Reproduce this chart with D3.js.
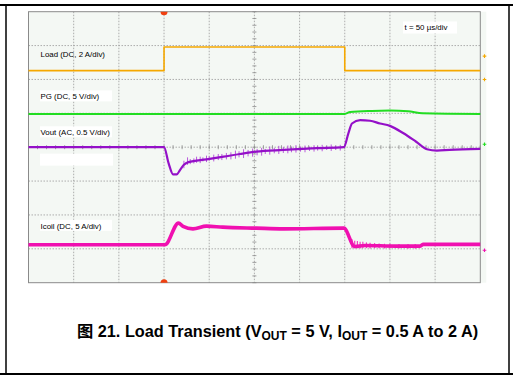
<!DOCTYPE html>
<html><head><meta charset="utf-8">
<script src="https://cdn.jsdelivr.net/npm/d3@7"></script>
<style>
html,body{margin:0;padding:0;background:#fff;}
svg{display:block;}
text{font-family:"Liberation Sans",Arial,sans-serif;}
</style></head>
<body>
<script>
// ---- data (time in µs, amplitude in scope divisions) ----
const xGrid = [0,50,100,150,200,250,300,350,400,450,500];
const yGrid = [-4,-3,-2,-1,0,1,2,3,4];
const loadTrace = [[0,2.26],[150,2.26],[150,2.96],[350,2.96],[350,2.26],[500,2.26]];
const pgTrace = [[0,0.98],[350,0.98],[356,1.04],[380,1.07],[400,1.08],[420,1.06],[436,1.0],[500,0.98]];
const voutTrace = [[0,0],[150,0],[155,-0.47],[160,-0.80],[164,-0.80],[168,-0.66],[172,-0.52],[177,-0.44],[197,-0.36],[216,-0.28],[234,-0.20],[252,-0.13],[282,-0.08],[319,-0.03],[349,0.0],[354,0.41],[358,0.70],[367,0.80],[378,0.78],[389,0.70],[400,0.63],[415,0.41],[429,0.16],[441,-0.06],[452,-0.10],[466,-0.08],[500,-0.05]];
const voutSpikes = [[172,-0.62,-0.40],[176,-0.52,-0.30],[179,-0.50,-0.35],[183,-0.48,-0.33],[186,-0.46,-0.28],[190,-0.47,-0.28],[193,-0.42,-0.30],[197,-0.44,-0.25],[200,-0.40,-0.27],[205,-0.42,-0.22],[210,-0.38,-0.20],[214,-0.38,-0.20],[219,-0.36,-0.17],[224,-0.36,-0.15],[229,-0.34,-0.10],[233,-0.30,-0.12],[238,-0.32,-0.06],[243,-0.27,-0.08],[248,-0.28,-0.04],[253,-0.24,-0.05],[258,-0.25,-0.02],[262,-0.20,-0.05],[267,-0.22,0.02],[272,-0.18,-0.02],[277,-0.20,0.04],[282,-0.17,0.01],[287,-0.18,0.05],[291,-0.15,0.02],[296,-0.16,0.06],[301,-0.13,0.02],[306,-0.15,0.05],[311,-0.11,0.02],[316,-0.13,0.06],[320,-0.10,0.03],[325,-0.12,0.07],[330,-0.08,0.03],[335,-0.11,0.08],[340,-0.08,0.04],[345,-0.10,0.07]];
const icoilTrace = [[0,-2.88],[151,-2.88],[166,-2.24],[171,-2.34],[182,-2.41],[197,-2.33],[215,-2.36],[252,-2.39],[282,-2.41],[349,-2.39],[361,-2.93],[372,-2.90],[407,-2.92],[433,-2.92],[437,-2.87],[500,-2.87]];
const icoilSpikes = [[358,-2.98,-2.72],[361,-2.98,-2.76],[364,-2.98,-2.77],[367,-2.99,-2.79],[370,-2.98,-2.79],[374,-2.98,-2.81],[378,-2.99,-2.82],[383,-2.98,-2.83],[388,-2.98,-2.84],[394,-2.99,-2.85],[400,-2.99,-2.85],[410,-2.99,-2.86],[420,-3.0,-2.86],[428,-3.0,-2.86]];
const chMarkers = [[2.69,"#f5a800"],[2.0,"#f5a800"],[0.085,"#22dd22"],[-3.04,"#f010b0"]];
const labels = [["Load (DC, 2 A/div)",2.75,false],["PG (DC, 5 V/div)",1.5,true],["Vout (AC, 0.5 V/div)",0.44,true],["Icoil (DC, 5 A/div)",-2.32,true]];
const timeLabel = "t = 50 µs/div";
const triggerT = 150;

const W = 513, H = 377;
const svg = d3.select("body").append("svg").attr("width",W).attr("height",H);
svg.append("rect").attr("width",W).attr("height",H).attr("fill","#fff");

const x = d3.scaleLinear().domain([0,500]).range([28.5,480.3]);
const y = d3.scaleLinear().domain([-4,4]).range([282.7,11.7]);

// page frame
svg.append("line").attr("x1",0).attr("x2",W).attr("y1",5).attr("y2",5).attr("stroke","#000").attr("stroke-width",2);
svg.append("line").attr("x1",0).attr("x2",W).attr("y1",374).attr("y2",374).attr("stroke","#000").attr("stroke-width",2);
svg.append("line").attr("x1",6).attr("x2",6).attr("y1",5).attr("y2",374).attr("stroke","#000").attr("stroke-width",1.5);
svg.append("line").attr("x1",509).attr("x2",509).attr("y1",5).attr("y2",374).attr("stroke","#000").attr("stroke-width",1.5);

// scope background
svg.append("rect").attr("x",x(0)).attr("y",y(4)).attr("width",x(500)-x(0)+6).attr("height",y(-4)-y(4)).attr("fill","#f4f8f4");

const g = svg.append("g");
// grid
g.selectAll(".vg").data(xGrid.slice(1,-1)).join("line")
  .attr("x1",d=>x(d)).attr("x2",d=>x(d)).attr("y1",y(4)).attr("y2",y(-4))
  .attr("stroke","#9a9a9a").attr("stroke-width",0.8).attr("stroke-dasharray","1.5,1.5");
g.selectAll(".hg").data(yGrid.slice(1,-1)).join("line")
  .attr("x1",x(0)).attr("x2",x(500)).attr("y1",d=>y(d)).attr("y2",d=>y(d))
  .attr("stroke","#9a9a9a").attr("stroke-width",0.8).attr("stroke-dasharray","1.5,1.5");
// minor ticks on center axes
const minorY = d3.range(-4,4.001,0.2);
g.selectAll(".my").data(minorY).join("line")
  .attr("x1",x(250)-2).attr("x2",x(250)+2).attr("y1",d=>y(d)).attr("y2",d=>y(d))
  .attr("stroke","#8a8a8a").attr("stroke-width",0.8);
const minorX = d3.range(0,500.01,10);
g.selectAll(".mx").data(minorX).join("line")
  .attr("x1",d=>x(d)).attr("x2",d=>x(d)).attr("y1",y(0)-2).attr("y2",y(0)+2)
  .attr("stroke","#8a8a8a").attr("stroke-width",0.8);
// border
g.append("rect").attr("x",x(0)).attr("y",y(4)).attr("width",x(500)-x(0)).attr("height",y(-4)-y(4))
  .attr("fill","none").attr("stroke","#8a8a8a").attr("stroke-width",1);

// labels with white boxes
labels.forEach(([t,v,box])=>{
  const ty = y(v);
  if(box) g.append("rect").attr("x",40).attr("y",ty-6).attr("width",72).attr("height",11).attr("fill","#fff");
  g.append("text").attr("x",40.5).attr("y",ty+2.8).attr("font-size",7.9).attr("fill","#000").text(t);
});
g.append("rect").attr("x",40).attr("y",y(-0.19)).attr("width",73).attr("height",12).attr("fill","#fff");
g.append("rect").attr("x",403).attr("y",21.5).attr("width",54).attr("height",12).attr("fill","#fff");
g.append("text").attr("x",404.5).attr("y",30).attr("font-size",7.9).attr("fill","#000").text(timeLabel);

const line = d3.line().x(d=>x(d[0])).y(d=>y(d[1]));
const smooth = d3.line().x(d=>x(d[0])).y(d=>y(d[1])).curve(d3.curveMonotoneX);
function trace(data,color,w,gen){
  g.append("path").datum(data).attr("d",gen||line).attr("fill","none").attr("stroke",color)
   .attr("stroke-width",w).attr("stroke-linejoin","round");
}
function spikes(data,color,w){
  g.selectAll(null).data(data).join("line")
   .attr("x1",d=>x(d[0])).attr("x2",d=>x(d[0])).attr("y1",d=>y(d[1])).attr("y2",d=>y(d[2]))
   .attr("stroke",color).attr("stroke-width",w).attr("opacity",0.85);
}
trace(loadTrace,"#f5a800",1.6);
trace(pgTrace,"#22dd22",2.0,smooth);
spikes(voutSpikes,"#b040d8",1);
trace(voutTrace,"#9410c8",2.2,smooth);
spikes(icoilSpikes,"#f020b8",1.2);
trace(icoilTrace,"#f010b0",3.6,smooth);

// trigger markers
g.append("path").attr("d",`M${x(triggerT)-3.5},${y(4)} A3.5,3.5 0 0 0 ${x(triggerT)+3.5},${y(4)} Z`).attr("fill","#f04010");
g.append("path").attr("d",`M${x(triggerT)-3.5},${y(-4)} A3.5,3.5 0 0 1 ${x(triggerT)+3.5},${y(-4)} Z`).attr("fill","#f04010");
// channel markers
chMarkers.forEach(([v,c])=>{
  const cx = 484.5, cy = y(v);
  g.append("path").attr("d",`M${cx-1.8},${cy}H${cx+1.8}M${cx},${cy-1.8}V${cy+1.8}`).attr("stroke",c).attr("stroke-width",1.1);
});

// caption
const cap = svg.append("text").attr("x",277.5).attr("y",337).attr("text-anchor","middle")
  .attr("font-size",16.3).attr("font-weight","bold").attr("fill","#000");
cap.append("tspan").attr("font-family","'Noto Sans CJK SC',sans-serif").text("图");
cap.append("tspan").text(" 21. Load Transient (V");
cap.append("tspan").attr("font-size",12).attr("dy",3.2).text("OUT");
cap.append("tspan").attr("dy",-3.2).text(" = 5 V, I");
cap.append("tspan").attr("font-size",12).attr("dy",3.2).text("OUT");
cap.append("tspan").attr("dy",-3.2).text(" = 0.5 A to 2 A)");
</script>
</body></html>
